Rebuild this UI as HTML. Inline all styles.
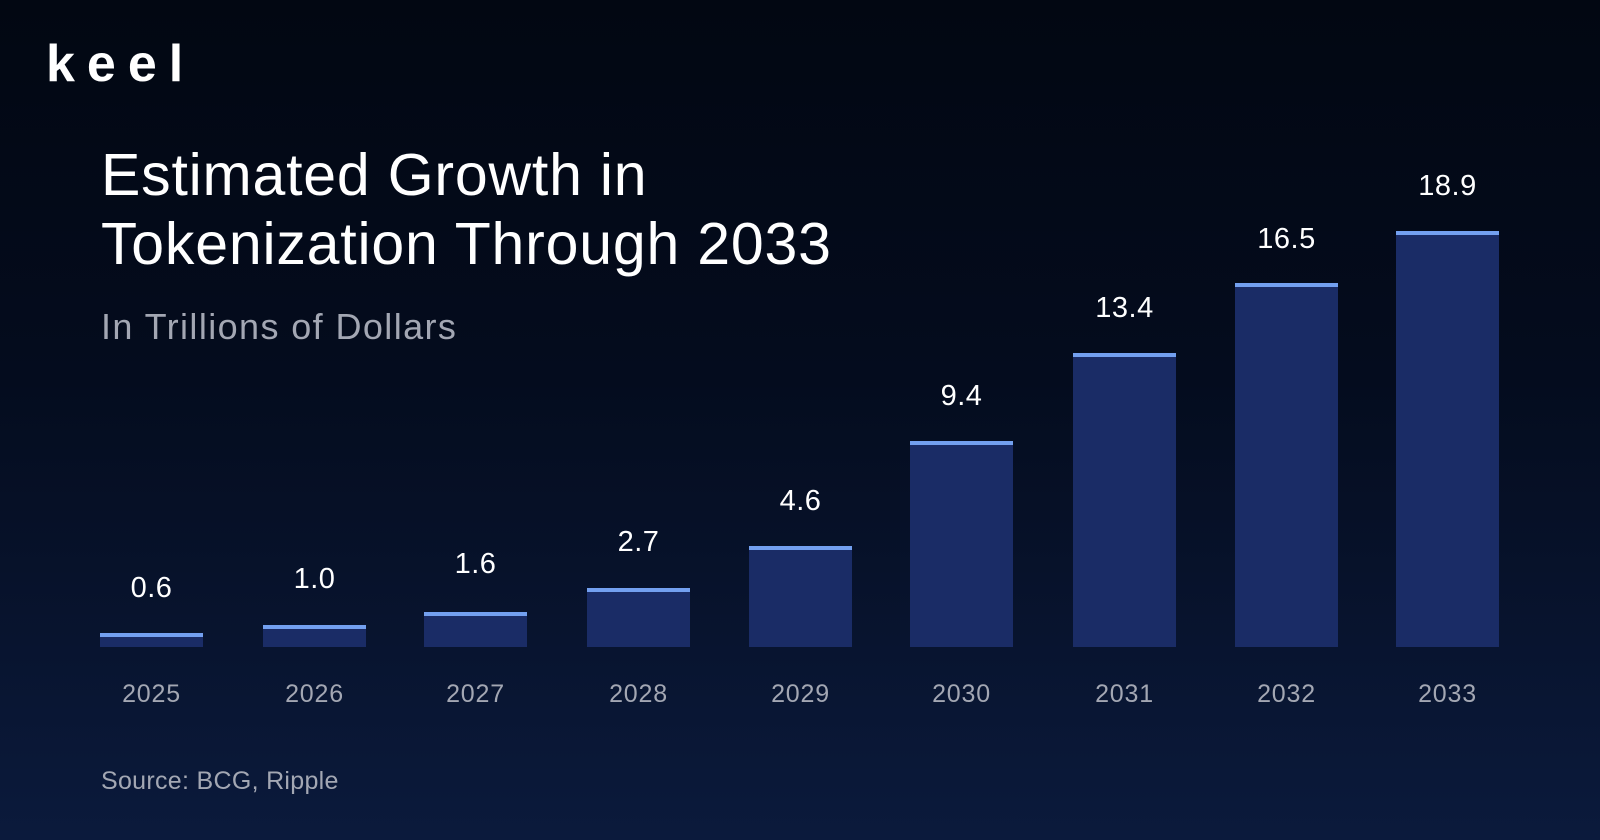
<!DOCTYPE html>
<html><head><style>
body{margin:0;width:1600px;height:840px;overflow:hidden;background:linear-gradient(180deg,#020712 0%,#040c1e 45%,#0b1a3c 100%);font-family:"Liberation Sans",sans-serif;color:#fff;position:relative}
.a{position:absolute;white-space:nowrap}
.bar{position:absolute;width:103px;background:#1a2c66;border-top:4px solid #73a0f0;box-sizing:border-box;bottom:193px}
.v{position:absolute;width:103px;text-align:center;font-size:29px;color:#fff;letter-spacing:0.5px}
.y{position:absolute;width:103px;text-align:center;font-size:25px;color:#a3a7b3;top:680px;letter-spacing:0.8px}
</style></head><body>
<div class="a" style="left:46px;top:34px;font-size:52px;font-weight:bold;letter-spacing:12px">keel</div>
<div class="a" style="left:101px;top:141px;font-size:59px;line-height:69px;letter-spacing:0.8px">Estimated Growth in<br>Tokenization Through 2033</div>
<div class="a" style="left:101px;top:306px;font-size:36px;color:#a3a7b3;letter-spacing:1.4px">In Trillions of Dollars</div>
<div class="a" style="left:101px;top:767px;font-size:25px;color:#a3a7b3;letter-spacing:0.3px">Source: BCG, Ripple</div>

<div class="bar" style="left:100px;top:633px"></div><div class="v" style="left:100px;top:572px">0.6</div><div class="y" style="left:100px">2025</div>
<div class="bar" style="left:263px;top:625px"></div><div class="v" style="left:263px;top:563px">1.0</div><div class="y" style="left:263px">2026</div>
<div class="bar" style="left:424px;top:612px"></div><div class="v" style="left:424px;top:548px">1.6</div><div class="y" style="left:424px">2027</div>
<div class="bar" style="left:587px;top:588px"></div><div class="v" style="left:587px;top:526px">2.7</div><div class="y" style="left:587px">2028</div>
<div class="bar" style="left:749px;top:546px"></div><div class="v" style="left:749px;top:485px">4.6</div><div class="y" style="left:749px">2029</div>
<div class="bar" style="left:910px;top:441px"></div><div class="v" style="left:910px;top:380px">9.4</div><div class="y" style="left:910px">2030</div>
<div class="bar" style="left:1073px;top:353px"></div><div class="v" style="left:1073px;top:292px">13.4</div><div class="y" style="left:1073px">2031</div>
<div class="bar" style="left:1235px;top:283px"></div><div class="v" style="left:1235px;top:223px">16.5</div><div class="y" style="left:1235px">2032</div>
<div class="bar" style="left:1396px;top:231px"></div><div class="v" style="left:1396px;top:170px">18.9</div><div class="y" style="left:1396px">2033</div>
</body></html>
